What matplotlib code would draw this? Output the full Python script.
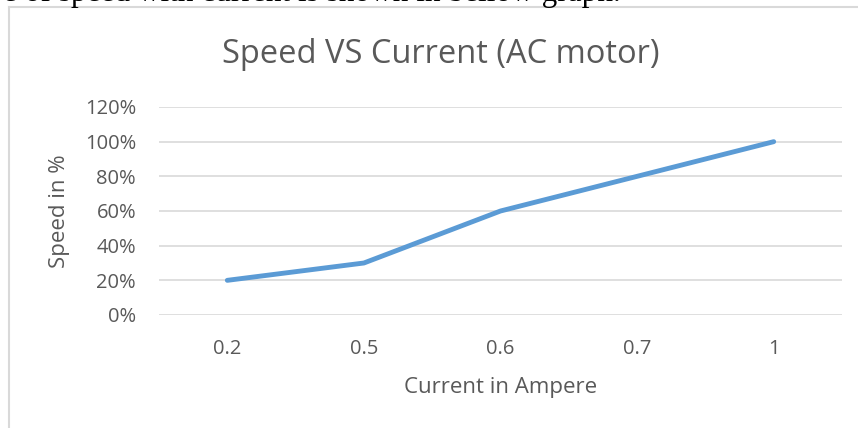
import matplotlib
matplotlib.use("Agg")
import matplotlib.pyplot as plt
from matplotlib.lines import Line2D

# data
currents = ["0.2", "0.5", "0.6", "0.7", "1"]
speed_pct = [20, 30, 60, 80, 100]
y_ticks = [0, 20, 40, 60, 80, 100, 120]

TXT = "#595959"
GRID = "#d9d9d9"
BLUE = "#5B9BD5"
W, H = 858, 428
AX_L, AX_R, AX_T, AX_B = 159, 842, 107, 315   # plot area in pixels

plt.rcParams["font.family"] = ["Open Sans", "DejaVu Sans"]

fig = plt.figure(figsize=(W / 100, H / 100), dpi=100)
ax = fig.add_axes([AX_L / W, 1 - AX_B / H, (AX_R - AX_L) / W, (AX_B - AX_T) / H])

x = range(len(currents))
ax.plot(x, speed_pct, color=BLUE, lw=3.5, solid_capstyle="round")
ax.set_xlim(-0.5, len(currents) - 0.5)
ax.set_ylim(0, 120)
ax.set_yticks(y_ticks)
ax.set_yticklabels([f"{v}%" for v in y_ticks])
ax.set_xticks(list(x))
ax.set_xticklabels(currents)
ax.grid(axis="y", color=GRID, lw=1.2)
ax.set_axisbelow(True)
for s in ax.spines.values():
    s.set_visible(False)
ax.tick_params(length=0, labelsize=14.5, colors=TXT)
ax.tick_params(axis="x", pad=17)
ax.tick_params(axis="y", pad=16.5)

ax.set_ylabel("Speed in %", fontsize=16, color=TXT, va="baseline")
ax.yaxis.set_label_coords((65 - AX_L) / (AX_R - AX_L), 0.5)
ax.set_xlabel("Current in Ampere", fontsize=16, color=TXT, va="baseline")
ax.xaxis.set_label_coords(0.5, (AX_B - 393) / (AX_B - AX_T))

fig.text(441 / W, 1 - 63 / H, "Speed VS Current (AC motor)", fontsize=23.5,
         color=TXT, ha="center", va="baseline")

# chart frame (only top and left edges visible in the crop)
fig.add_artist(Line2D([9 / W, 9 / W], [0, 1 - 7 / H], transform=fig.transFigure,
                      color=GRID, lw=1.5))
fig.add_artist(Line2D([9 / W, 1], [1 - 7 / H, 1 - 7 / H], transform=fig.transFigure,
                      color=GRID, lw=1.5))

# clipped line of document text above the chart (only its lower edge shows)
fig.text(621 / W, 1 - 1 / H, "e of speed with current is shown in bellow graph.",
         family="Liberation Serif", fontsize=22.5, color="black",
         ha="right", va="baseline")

fig.savefig("out.png", dpi=100, facecolor="white")
